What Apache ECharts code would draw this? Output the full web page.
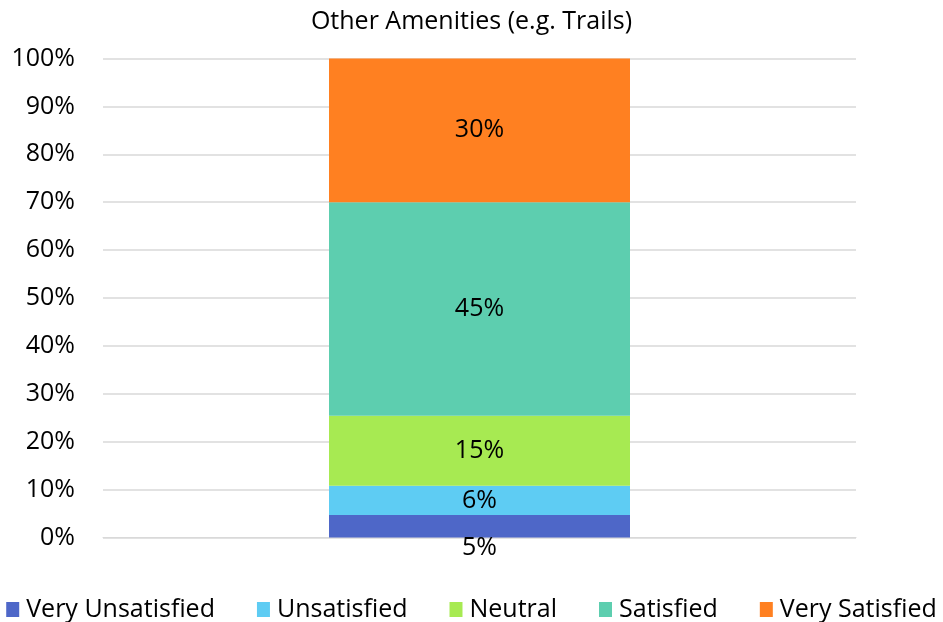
<!DOCTYPE html>
<html>
<head>
<meta charset="utf-8">
<script src="https://cdn.jsdelivr.net/npm/echarts@6/dist/echarts.min.js"></script>
<style>
  html, body { margin: 0; padding: 0; background: #fff; }
  #chart { width: 943px; height: 622px; }
</style>
</head>
<body>
<div id="chart"></div>
<script>
const categories = ['Other Amenities (e.g. Trails)'];
const seriesNames = ['Very Unsatisfied', 'Unsatisfied', 'Neutral', 'Satisfied', 'Very Satisfied'];
const veryUnsatisfied = [4.7];
const unsatisfied = [6.1];
const neutral = [14.6];
const satisfied = [44.6];
const verySatisfied = [30.0];
const colors = ['#4E67C8', '#5ECCF3', '#A7EA52', '#5DCEAF', '#FF8021'];

const font = '"Open Sans", sans-serif';
const chart = echarts.init(document.getElementById('chart'));

function makeSeries(name, data, color, offset) {
  return {
    name: name,
    type: 'bar',
    stack: 'total',
    barWidth: 301,
    data: data,
    itemStyle: { color: color },
    label: {
      show: true,
      position: 'inside',
      offset: offset || [0, 0],
      color: '#000',
      fontFamily: font,
      fontSize: 25,
      formatter: p => Math.round(p.value) + '%'
    }
  };
}

chart.setOption({
  animation: false,
  title: {
    text: categories[0],
    left: 'center',
    top: 4,
    textStyle: { fontFamily: font, fontSize: 25, fontWeight: 'normal', color: '#000' }
  },
  legend: {
    bottom: 0,
    left: 'center',
    padding: 0,
    itemWidth: 13,
    itemHeight: 15,
    itemGap: 42,
    icon: 'rect',
    textStyle: { fontFamily: font, fontSize: 25, color: '#000', padding: [0, 0, 0, 2] },
    data: seriesNames
  },
  grid: { left: 103, right: 87, top: 58.5, bottom: 84.5 },
  xAxis: {
    type: 'category',
    data: categories,
    axisLine: { show: true, lineStyle: { color: '#D9D9D9' } },
    axisTick: { show: false },
    axisLabel: { show: false }
  },
  yAxis: {
    type: 'value',
    min: 0,
    max: 100,
    interval: 10,
    axisLine: { show: false },
    axisTick: { show: false },
    splitLine: { lineStyle: { color: '#D9D9D9', width: 1.5 } },
    axisLabel: {
      formatter: v => v + '%',
      fontFamily: font,
      fontSize: 25,
      color: '#000',
      margin: 28
    }
  },
  series: [
    makeSeries(seriesNames[0], veryUnsatisfied, colors[0], [0, 22]),
    makeSeries(seriesNames[1], unsatisfied, colors[1]),
    makeSeries(seriesNames[2], neutral, colors[2]),
    makeSeries(seriesNames[3], satisfied, colors[3]),
    makeSeries(seriesNames[4], verySatisfied, colors[4])
  ]
});
</script>
</body>
</html>
